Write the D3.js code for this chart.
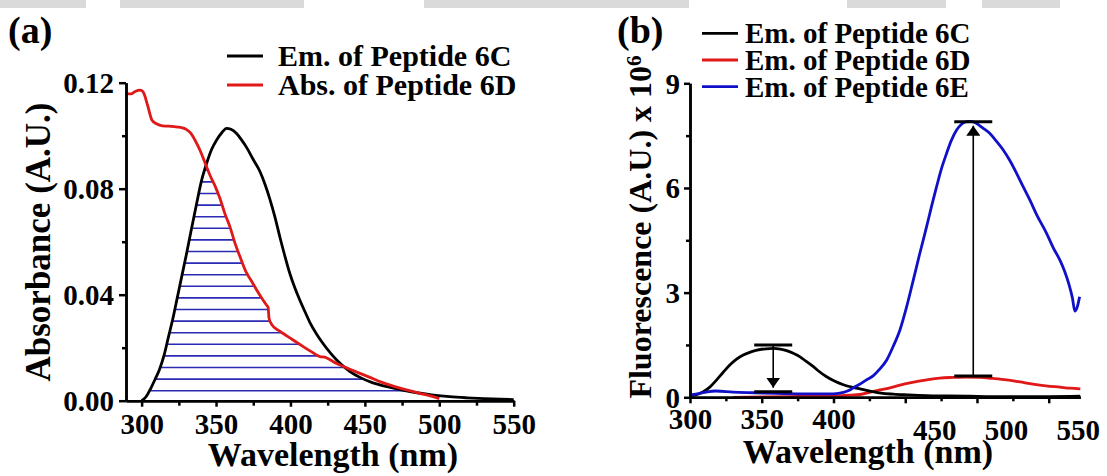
<!DOCTYPE html>
<html>
<head>
<meta charset="utf-8">
<script src="https://cdn.jsdelivr.net/npm/d3@7"></script>
<style>
  body { margin: 0; background: #ffffff; }
  svg { display: block; font-family: "Liberation Serif", "Times New Roman", serif; font-weight: bold; }
</style>
</head>
<body>
<script>
// ---------------- Panel (a): spectral overlap ----------------
// Absorption of peptide 6D (A.U.)
const absNm  = [289.5, 293, 296, 299, 301, 304, 307, 310, 314, 318, 322, 326, 330, 333, 337, 340, 343, 346, 349.5, 352.6, 356, 359.3, 363, 366, 370.6, 374, 377.3, 381, 384, 385, 385.6, 387.6, 392, 396.6, 402, 408.6, 414, 419.8, 423, 425.4, 431, 437.8, 445, 453.4, 461, 469.1, 478, 487, 494, 500];
const absVal = [0.116, 0.1158, 0.1168, 0.1172, 0.1165, 0.1115, 0.1058, 0.1045, 0.1037, 0.1036, 0.1034, 0.1031, 0.1024, 0.1010, 0.0971, 0.0935, 0.0892, 0.0850, 0.0808, 0.0764, 0.0705, 0.0657, 0.0590, 0.0545, 0.0481, 0.0450, 0.0418, 0.0385, 0.0360, 0.0352, 0.0311, 0.0286, 0.0265, 0.0248, 0.0228, 0.0204, 0.0185, 0.0166, 0.0164, 0.0158, 0.0140, 0.0124, 0.0107, 0.0088, 0.0070, 0.0055, 0.0041, 0.0028, 0.0018, 0.0008];

// Emission of peptide 6C, same axes
const emCNm  = [300, 303, 306, 309, 312, 315, 318, 321, 324, 327, 330, 333, 337, 340, 343.7, 347, 350.4, 354, 357.1, 360, 363.8, 367, 370.6, 375, 379.5, 383, 386.2, 389.5, 393, 396.3, 399.7, 403, 406.4, 410, 413.1, 417.5, 422, 427.5, 433.3, 440, 446.7, 455, 464.7, 473.6, 485, 496, 507, 518.4, 530, 540.8, 550];
const emCVal = [0, 0.0015, 0.0045, 0.008, 0.0118, 0.017, 0.024, 0.031, 0.039, 0.047, 0.055, 0.0635, 0.0745, 0.0825, 0.0896, 0.0948, 0.0984, 0.1012, 0.1028, 0.1024, 0.1008, 0.0985, 0.0955, 0.0910, 0.0865, 0.0815, 0.0760, 0.0695, 0.0615, 0.0545, 0.0478, 0.0425, 0.0378, 0.0333, 0.0295, 0.0252, 0.0215, 0.0176, 0.0141, 0.0110, 0.0088, 0.0068, 0.0053, 0.0042, 0.0030, 0.0021, 0.0015, 0.0011, 0.0008, 0.0006, 0.0004];

const aYTicks = [0, 0.04, 0.08, 0.12];
const aYMinor = [0.02, 0.06, 0.10];
const aXTicks = [300, 350, 400, 450, 500, 550];
const aXMinor = [325, 375, 425, 475, 525];
const aLegend = ["Em. of Peptide 6C", "Abs. of Peptide 6D"];

// ---------------- Panel (b): emission spectra (x 10^6) ----------------
const bNmC  = [300, 305, 309.3, 314, 318.6, 323, 327.9, 332, 337.1, 343, 348.8, 353, 358, 363, 367.3, 372, 376.7, 381, 386, 390, 395.2, 401, 406.9, 412, 418.5, 425.4, 433, 441.7, 452, 465, 480, 495, 511, 530, 550, 572];
const bValC = [0.04, 0.08, 0.16, 0.30, 0.50, 0.71, 0.93, 1.08, 1.21, 1.31, 1.37, 1.39, 1.40, 1.38, 1.34, 1.26, 1.16, 1.03, 0.88, 0.74, 0.59, 0.46, 0.36, 0.30, 0.24, 0.18, 0.12, 0.09, 0.07, 0.05, 0.04, 0.03, 0.02, 0.02, 0.02, 0.03];

const bNmD  = [330, 350, 370, 390, 400, 410, 418.5, 425, 432.4, 440, 446.3, 455, 465, 474, 483.4, 492, 502, 511, 520.6, 530, 539, 548, 557.8, 565, 572];
const bValD = [0.0, 0.01, 0.02, 0.03, 0.04, 0.06, 0.08, 0.14, 0.21, 0.28, 0.35, 0.43, 0.50, 0.55, 0.57, 0.58, 0.57, 0.54, 0.50, 0.44, 0.38, 0.33, 0.29, 0.26, 0.24];

const bNmE  = [300, 305, 310, 318, 330, 345, 360, 375, 390, 400, 407, 411, 414, 418.5, 423, 427.8, 432, 437.1, 441.5, 446.3, 451, 455.6, 460, 464.9, 468.5, 471.8, 475, 478.8, 482, 485.8, 489, 492.7, 496, 499.7, 504, 509, 513.5, 518.3, 523, 527.6, 532, 536.9, 542, 548.5, 553, 557.8, 561, 564, 566.5, 568.2, 569.8, 571.5];
const bValE = [0.07, 0.10, 0.14, 0.18, 0.15, 0.13, 0.11, 0.10, 0.10, 0.10, 0.14, 0.20, 0.28, 0.38, 0.50, 0.62, 0.80, 1.07, 1.45, 1.93, 2.60, 3.36, 4.10, 4.89, 5.50, 6.03, 6.52, 6.99, 7.35, 7.66, 7.82, 7.90, 7.91, 7.85, 7.72, 7.56, 7.34, 7.09, 6.78, 6.42, 6.05, 5.65, 5.20, 4.70, 4.30, 3.93, 3.62, 3.25, 2.85, 2.47, 2.58, 2.88];

// intensity change markers: centre wavelength, starting level, final level
const changeNm    = [358, 497.4];
const changeFrom  = [1.50, 0.61];
const changeTo    = [0.16, 7.90];

const bYTicks = [0, 3, 6, 9];
const bYMinor = [1.5, 4.5, 7.5];
const bXTicks = [300, 350, 400, 450, 500, 550];
const bXMinor = [325, 375, 425, 475, 525];
const bLegend = ["Em. of Peptide 6C", "Em. of Peptide 6D", "Em. of Peptide 6E"];

// ---------------- drawing ----------------
const W = 1107, H = 476;
const svg = d3.select("body").append("svg").attr("width", W).attr("height", H);

// faint grey strip along the top edge
const strip = svg.append("g");
[[0, 86], [120, 304], [424, 689], [847, 946], [982, 1060]].forEach(([a, b]) => {
  strip.append("rect").attr("x", a).attr("y", 0).attr("width", b - a).attr("height", 8)
    .attr("fill", "#dadada");
});

const AX = 2.5;           // axis stroke
const LW = 2.8;           // curve stroke
const TICK_FONT = 29;

function styleAxis(g, fontSize) {
  g.attr("font-family", null).attr("font-size", null);
  g.selectAll("path.domain").attr("stroke", "#000").attr("stroke-width", AX);
  g.selectAll(".tick line").attr("stroke", "#000").attr("stroke-width", AX);
  g.selectAll(".tick text").attr("fill", "#000").style("font-size", fontSize + "px")
    .style("font-weight", "bold");
}

// ===== Panel (a) =====
const xA = d3.scaleLinear().domain([289.5, 550]).range([126, 513.7]);
const yA = d3.scaleLinear().domain([0, 0.12]).range([400.7, 82.7]);

// overlap region (under both curves) filled with horizontal hatching
const fAbs = d3.scaleLinear().domain(absNm).range(absVal).clamp(true);
const fEm  = d3.scaleLinear().domain(emCNm).range(emCVal).clamp(true);
const ovNm = d3.range(300, 500.01, 0.5);
const ovTop = ovNm.map(n => [xA(n), yA(Math.min(fAbs(n), fEm(n)))]);
const ovPoly = ovTop.concat([[xA(500), yA(0)], [xA(300), yA(0)]]);
svg.append("clipPath").attr("id", "ovClip")
  .append("path").attr("d", "M" + ovPoly.map(p => p.join(",")).join("L") + "Z");
const hatch = svg.append("g").attr("clip-path", "url(#ovClip)");
for (let y = yA(0) - 10; y > yA(0.12); y -= 11.6) {
  hatch.append("line").attr("x1", xA(300)).attr("x2", xA(500)).attr("y1", y).attr("y2", y)
    .attr("stroke", "#2a2ab4").attr("stroke-width", 1.6);
}

const lineA = d3.line().x(d => xA(d[0])).y(d => yA(d[1])).curve(d3.curveMonotoneX);
svg.append("path").attr("d", lineA(d3.zip(emCNm, emCVal)))
  .attr("fill", "none").attr("stroke", "#000").attr("stroke-width", LW);
svg.append("path").attr("d", lineA(d3.zip(absNm, absVal)))
  .attr("fill", "none").attr("stroke", "#e01818").attr("stroke-width", LW);

// axes (a)
const gAyMin = svg.append("g").attr("transform", `translate(${xA(289.5)},0)`)
  .call(d3.axisLeft(yA).tickValues(aYMinor).tickSize(4).tickSizeOuter(0).tickFormat(""));
styleAxis(gAyMin, TICK_FONT);
const gAy = svg.append("g").attr("transform", `translate(${xA(289.5)},0)`)
  .call(d3.axisLeft(yA).tickValues(aYTicks).tickSize(7).tickSizeOuter(0).tickPadding(5)
    .tickFormat(d3.format(".2f")));
styleAxis(gAy, TICK_FONT);
gAy.selectAll(".tick text").attr("dy", "0.34em");

const gAxMin = svg.append("g").attr("transform", `translate(0,${yA(0)})`)
  .call(d3.axisBottom(xA).tickValues(aXMinor).tickSize(5).tickSizeOuter(0).tickFormat(""));
styleAxis(gAxMin, TICK_FONT);
const gAx = svg.append("g").attr("transform", `translate(0,${yA(0)})`)
  .call(d3.axisBottom(xA).tickValues(aXTicks).tickSize(6).tickSizeOuter(0).tickPadding(7)
    .tickFormat(d3.format("d")));
styleAxis(gAx, TICK_FONT);

svg.append("text").attr("x", 333).attr("y", 466).attr("text-anchor", "middle")
  .style("font-size", "34px").text("Wavelength (nm)");
svg.append("text").attr("transform", "translate(50,242) rotate(-90)").attr("text-anchor", "middle")
  .style("font-size", "35px").text("Absorbance (A.U.)");
svg.append("text").attr("x", 8).attr("y", 43).style("font-size", "38px").text("(a)");

// legend (a)
const aColors = ["#000", "#e01818"];
aLegend.forEach((t, i) => {
  const y = 56 + i * 29;
  svg.append("line").attr("x1", 227).attr("x2", 263).attr("y1", y).attr("y2", y)
    .attr("stroke", aColors[i]).attr("stroke-width", LW);
  svg.append("text").attr("x", 278).attr("y", y + 10).style("font-size", "30px").text(t);
});

// ===== Panel (b) =====
const xB = d3.scaleLinear().domain([300, 572]).range([690, 1080.3]);
const yB = d3.scaleLinear().domain([0, 9]).range([397.3, 83.3]);
const lineB = d3.line().x(d => xB(d[0])).y(d => yB(d[1])).curve(d3.curveMonotoneX);

svg.append("path").attr("d", lineB(d3.zip(bNmD, bValD)))
  .attr("fill", "none").attr("stroke", "#e01818").attr("stroke-width", LW);
svg.append("path").attr("d", lineB(d3.zip(bNmC, bValC)))
  .attr("fill", "none").attr("stroke", "#000").attr("stroke-width", LW);
svg.append("path").attr("d", lineB(d3.zip(bNmE, bValE)))
  .attr("fill", "none").attr("stroke", "#1010c8").attr("stroke-width", LW);

// change markers: level bars plus arrow
const defs = svg.append("defs");
defs.append("marker").attr("id", "arrowHead").attr("viewBox", "0 0 10 14")
  .attr("refX", 10).attr("refY", 7).attr("markerWidth", 10).attr("markerHeight", 14)
  .attr("markerUnits", "userSpaceOnUse").attr("orient", "auto")
  .append("path").attr("d", "M0,0L10,7L0,14Z").attr("fill", "#000");
changeNm.forEach((n, i) => {
  const f = changeFrom[i], t = changeTo[i];
  [f, t].forEach(v => {
    svg.append("line").attr("x1", xB(n) - 19).attr("x2", xB(n) + 19)
      .attr("y1", yB(v)).attr("y2", yB(v)).attr("stroke", "#000").attr("stroke-width", 3);
  });
  svg.append("line").attr("x1", xB(n)).attr("x2", xB(n))
    .attr("y1", yB(f)).attr("y2", yB(t) + (t > f ? 4 : -4))
    .attr("stroke", "#000").attr("stroke-width", 1.6).attr("marker-end", "url(#arrowHead)");
});

// axes (b)
const gByMin = svg.append("g").attr("transform", `translate(${xB(300)},0)`)
  .call(d3.axisLeft(yB).tickValues(bYMinor).tickSize(4).tickSizeOuter(0).tickFormat(""));
styleAxis(gByMin, TICK_FONT);
const gBy = svg.append("g").attr("transform", `translate(${xB(300)},0)`)
  .call(d3.axisLeft(yB).tickValues(bYTicks).tickSize(6).tickSizeOuter(0).tickPadding(4)
    .tickFormat(d3.format("d")));
styleAxis(gBy, TICK_FONT);
gBy.selectAll(".tick text").attr("dy", "0.34em");

const gBxMin = svg.append("g").attr("transform", `translate(0,${yB(0)})`)
  .call(d3.axisBottom(xB).tickValues(bXMinor).tickSize(4).tickSizeOuter(0).tickFormat(""));
styleAxis(gBxMin, TICK_FONT);
const gBx = svg.append("g").attr("transform", `translate(0,${yB(0)})`)
  .call(d3.axisBottom(xB).tickValues(bXTicks).tickSize(6).tickSizeOuter(0).tickPadding(5)
    .tickFormat(d3.format("d")));
styleAxis(gBx, TICK_FONT);
// the upper three labels sit further right and lower
gBx.selectAll(".tick text").filter(d => d >= 450).attr("x", 29).attr("y", 22);

svg.append("text").attr("x", 868).attr("y", 463).attr("text-anchor", "middle")
  .style("font-size", "34px").text("Wavelength (nm)");
const yt = svg.append("text").attr("transform", "translate(651,227) rotate(-90)")
  .attr("text-anchor", "middle").style("font-size", "32px");
yt.append("tspan").text("Fluorescence (A.U.) x 10");
yt.append("tspan").attr("dy", "-0.5em").style("font-size", "21px").text("6");
svg.append("text").attr("x", 617).attr("y", 43).style("font-size", "38px").text("(b)");

// legend (b)
const bColors = ["#000", "#e01818", "#1010c8"];
bLegend.forEach((t, i) => {
  const y = 33.3 + i * 26.7;
  svg.append("line").attr("x1", 702).attr("x2", 738).attr("y1", y).attr("y2", y)
    .attr("stroke", bColors[i]).attr("stroke-width", LW);
  svg.append("text").attr("x", 745).attr("y", y + 10).style("font-size", "29px").text(t);
});
</script>
</body>
</html>
